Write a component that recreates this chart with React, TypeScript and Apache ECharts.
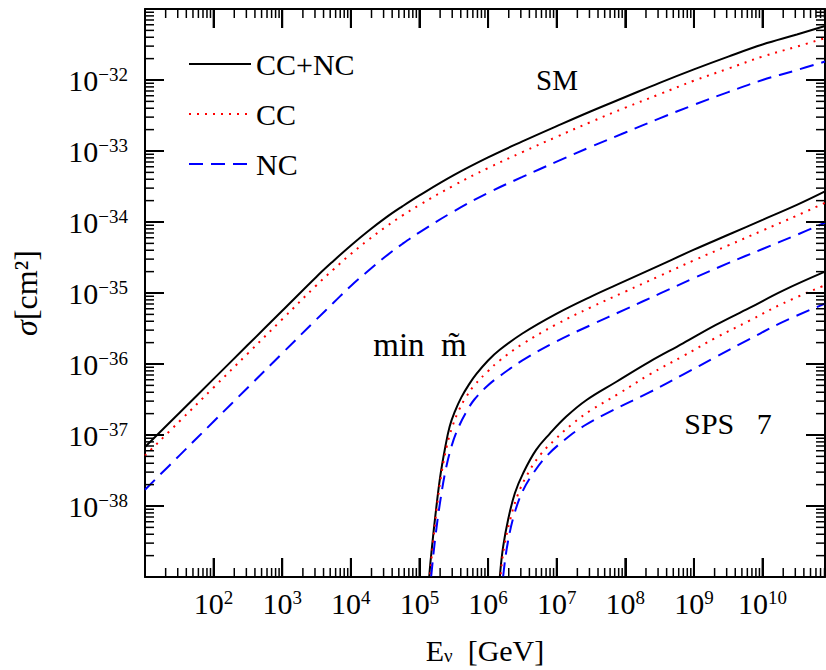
import React, { useEffect, useRef } from 'react';
import * as echarts from 'echarts';

// log10(E_nu / GeV) and log10(sigma / cm^2)
const X_MIN = 1;
const X_MAX = 10.91;
const Y_MIN = -39;
const Y_MAX = -31;

const xTickExponents = [2, 3, 4, 5, 6, 7, 8, 9, 10];
const yTickExponents = [-38, -37, -36, -35, -34, -33, -32];

// Standard Model
const smTotal: [number, number][] = [
  [1.0, -37.17], [1.5, -36.69], [2.0, -36.21], [2.5, -35.73], [3.0, -35.25], [3.5, -34.77],
  [3.75, -34.545], [4.0, -34.33], [4.25, -34.13], [4.5, -33.945], [4.75, -33.78], [5.0, -33.625],
  [5.5, -33.34], [6.0, -33.09], [6.5, -32.865], [7.0, -32.65], [7.5, -32.44], [8.0, -32.24],
  [8.5, -32.04], [9.0, -31.85], [9.5, -31.67], [10.0, -31.5], [10.5, -31.36], [10.91, -31.24],
];
const smCC: [number, number][] = [
  [1.0, -37.29], [1.5, -36.81], [2.0, -36.33], [2.5, -35.85], [3.0, -35.37], [3.5, -34.89],
  [3.75, -34.665], [4.0, -34.45], [4.25, -34.255], [4.5, -34.075], [4.75, -33.91], [5.0, -33.76],
  [5.5, -33.485], [6.0, -33.24], [6.5, -33.015], [7.0, -32.8], [7.5, -32.59], [8.0, -32.39],
  [8.5, -32.2], [9.0, -32.01], [9.5, -31.84], [10.0, -31.67], [10.5, -31.53], [10.91, -31.41],
];
const smNC: [number, number][] = [
  [1.0, -37.77], [1.5, -37.29], [2.0, -36.81], [2.5, -36.33], [3.0, -35.85], [3.5, -35.37],
  [3.75, -35.135], [4.0, -34.9], [4.25, -34.69], [4.5, -34.49], [4.75, -34.31], [5.0, -34.145],
  [5.5, -33.85], [6.0, -33.59], [6.5, -33.365], [7.0, -33.15], [7.5, -32.94], [8.0, -32.74],
  [8.5, -32.54], [9.0, -32.35], [9.5, -32.17], [10.0, -32.0], [10.5, -31.86], [10.91, -31.74],
];

// min m~
const minTotal: [number, number][] = [
  [5.12, -39.3], [5.15, -38.9], [5.18, -38.6], [5.23, -38.15], [5.3, -37.6], [5.37, -37.2],
  [5.44, -36.88], [5.52, -36.66], [5.61, -36.47], [5.72, -36.29], [5.83, -36.14], [6.0, -35.95],
  [6.17, -35.8], [6.5, -35.57], [7.0, -35.29], [7.5, -35.05], [8.0, -34.83], [8.5, -34.61],
  [9.0, -34.39], [9.5, -34.18], [10.0, -33.97], [10.5, -33.76], [10.91, -33.57],
];
const minCC: [number, number][] = [
  [5.13, -39.3], [5.16, -38.9], [5.2, -38.5], [5.25, -38.05], [5.32, -37.55], [5.4, -37.15],
  [5.48, -36.88], [5.57, -36.66], [5.67, -36.48], [5.8, -36.3], [6.0, -36.1], [6.17, -35.95],
  [6.5, -35.72], [7.0, -35.44], [7.5, -35.2], [8.0, -34.98], [8.5, -34.76], [9.0, -34.54],
  [9.5, -34.33], [10.0, -34.12], [10.5, -33.91], [10.91, -33.73],
];
const minNC: [number, number][] = [
  [5.14, -39.3], [5.18, -38.9], [5.23, -38.45], [5.3, -37.95], [5.38, -37.5], [5.47, -37.15],
  [5.57, -36.89], [5.68, -36.68], [5.8, -36.5], [6.0, -36.3], [6.17, -36.17], [6.5, -35.95],
  [7.0, -35.68], [7.5, -35.45], [8.0, -35.23], [8.5, -35.01], [9.0, -34.79], [9.5, -34.58],
  [10.0, -34.38], [10.5, -34.18], [10.91, -34.01],
];

// SPS 7
const spsTotal: [number, number][] = [
  [6.15, -39.3], [6.18, -38.9], [6.22, -38.57], [6.29, -38.2], [6.39, -37.82], [6.51, -37.54],
  [6.7, -37.21], [6.9, -36.98], [7.14, -36.74], [7.43, -36.51], [7.87, -36.25], [8.35, -35.97],
  [8.84, -35.71], [9.32, -35.45], [9.81, -35.21], [10.29, -34.97], [10.91, -34.7],
];
const spsCC: [number, number][] = [
  [6.16, -39.3], [6.19, -38.9], [6.24, -38.55], [6.32, -38.2], [6.43, -37.85], [6.57, -37.56],
  [6.76, -37.28], [6.98, -37.06], [7.22, -36.85], [7.5, -36.65], [7.9, -36.42], [8.35, -36.15],
  [8.84, -35.89], [9.32, -35.63], [9.81, -35.39], [10.29, -35.15], [10.91, -34.89],
];
const spsNC: [number, number][] = [
  [6.19, -39.3], [6.23, -38.9], [6.29, -38.5], [6.38, -38.12], [6.5, -37.8], [6.65, -37.55],
  [6.85, -37.3], [7.1, -37.08], [7.4, -36.87], [7.8, -36.66], [8.35, -36.4], [8.84, -36.15],
  [9.32, -35.9], [9.81, -35.65], [10.29, -35.41], [10.91, -35.15],
];

const seriesNames = ['CC+NC', 'CC', 'NC'];
const annotationTexts = ['SM', 'min\u2002m\u0303', 'SPS\u2002 7'];

const FONT = 'Liberation Serif';
// layout of the annotation texts (pixel centres and font sizes)
const annotationLayout = [
  { x: 557, y: 80, size: 29 },
  { x: 420, y: 345, size: 33 },
  { x: 728, y: 423, size: 30 },
];

function minorTicks(lo: number, hi: number): number[] {
  const out: number[] = [];
  for (let n = Math.floor(lo); n < Math.ceil(hi); n++) {
    for (let k = 2; k <= 9; k++) {
      const v = n + Math.log10(k);
      if (v > lo && v < hi) out.push(v);
    }
  }
  return out;
}

const styles = [
  { color: '#000000', type: 'solid' as any, width: 2 },
  { color: '#ff0000', type: [2, 6] as any, width: 2 },
  { color: '#0000ff', type: [14, 8] as any, width: 2 },
];

export default function App() {
  const ref = useRef<HTMLDivElement>(null);
  useEffect(() => {
    if (!ref.current) return;
    const chart = echarts.init(ref.current, undefined, { renderer: 'svg' });

    const groups = [
      [smTotal, smCC, smNC],
      [minTotal, minCC, minNC],
      [spsTotal, spsCC, spsNC],
    ];
    const lineSeries: any[] = [];
    groups.forEach((g) => {
      g.forEach((d, i) => {
        lineSeries.push({
          type: 'line',
          name: seriesNames[i],
          data: d,
          xAxisIndex: 0,
          yAxisIndex: 0,
          showSymbol: false,
          symbol: 'none',
          smooth: 0.4,
          clip: true,
          lineStyle: { color: styles[i].color, width: styles[i].width, type: styles[i].type },
          itemStyle: { color: styles[i].color },
          silent: true,
          z: 3,
        });
      });
    });

    const majorStyle = { stroke: '#000', lineWidth: 2 };
    const minorStyle = { stroke: '#000', lineWidth: 1.5 };

    const xTicks = [
      ...xTickExponents.map((e) => [e, 19]),
      ...minorTicks(X_MIN, X_MAX).map((v) => [v, 9]),
    ];
    const yTicks = [
      ...yTickExponents.map((e) => [e, 19]),
      ...minorTicks(Y_MIN, Y_MAX).map((v) => [v, 9]),
    ];

    const xTickSeries = {
      type: 'custom',
      xAxisIndex: 0,
      yAxisIndex: 0,
      silent: true,
      clip: false,
      z: 5,
      data: xTicks.map((t) => [t[0], Y_MIN, t[1]]),
      encode: { x: 0, y: 1 },
      renderItem: (params: any, api: any) => {
        const p = api.coord([api.value(0), Y_MIN]);
        const len = api.value(2);
        const cs = params.coordSys;
        const yb = cs.y + cs.height;
        const st = len > 10 ? majorStyle : minorStyle;
        return {
          type: 'group',
          children: [
            { type: 'line', shape: { x1: p[0], y1: yb, x2: p[0], y2: yb - len }, style: st },
            { type: 'line', shape: { x1: p[0], y1: cs.y, x2: p[0], y2: cs.y + len }, style: st },
          ],
        };
      },
    };
    const yTickSeries = {
      type: 'custom',
      xAxisIndex: 0,
      yAxisIndex: 0,
      silent: true,
      clip: false,
      z: 5,
      data: yTicks.map((t) => [X_MIN, t[0], t[1]]),
      encode: { x: 0, y: 1 },
      renderItem: (params: any, api: any) => {
        const p = api.coord([X_MIN, api.value(1)]);
        const len = api.value(2);
        const cs = params.coordSys;
        const xr = cs.x + cs.width;
        const st = len > 10 ? majorStyle : minorStyle;
        return {
          type: 'group',
          children: [
            { type: 'line', shape: { x1: cs.x, y1: p[1], x2: cs.x + len, y2: p[1] }, style: st },
            { type: 'line', shape: { x1: xr, y1: p[1], x2: xr - len, y2: p[1] }, style: st },
          ],
        };
      },
    };

    const rich = {
      b: { fontFamily: FONT, fontSize: 30, color: '#000', lineHeight: 30, verticalAlign: 'top' },
      s: { fontFamily: FONT, fontSize: 19, color: '#000', lineHeight: 19, verticalAlign: 'top' },
    };

    const axisCommon = {
      axisLine: { show: true, onZero: false, lineStyle: { color: '#000', width: 2 } },
      axisTick: { show: true, inside: true, length: 19, lineStyle: { color: '#000', width: 2 } },
      splitLine: { show: false },
    };

    chart.setOption({
      animation: false,
      backgroundColor: '#ffffff',
      grid: { left: 145, right: 1, top: 9, bottom: 93, containLabel: false },
      legend: {
        data: seriesNames,
        orient: 'vertical',
        left: 183,
        top: 44,
        itemWidth: 62,
        itemHeight: 14,
        itemGap: 20,
        textGap: 20,
        itemStyle: { opacity: 0 },
        textStyle: { fontFamily: FONT, fontSize: 30, color: '#000', lineHeight: 30 },
        selectedMode: false,
      },
      xAxis: [
        {
          type: 'value',
          min: X_MIN,
          max: X_MAX,
          interval: 1,
          position: 'bottom',
          ...axisCommon,
          axisLabel: {
            margin: 11,
            showMinLabel: false,
            showMaxLabel: false,
            formatter: (v: number) => {
              const e = Math.round(v);
              return Math.abs(v - e) < 1e-6 && xTickExponents.includes(e) ? `{b|10}{s|${e}}` : '';
            },
            rich,
          },
          name: '{n|E}{sub|\u03bd}{n|  [GeV]}',
          nameLocation: 'middle',
          nameGap: 58,
          nameTextStyle: {
            rich: {
              n: { fontFamily: FONT, fontSize: 30, color: '#000', lineHeight: 30, verticalAlign: 'top' },
              sub: { fontFamily: FONT, fontSize: 19, color: '#000', lineHeight: 4, verticalAlign: 'bottom' },
            },
          },
        },
        {
          type: 'value',
          min: X_MIN,
          max: X_MAX,
          interval: 1,
          position: 'top',
          ...axisCommon,
          axisLabel: { show: false },
        },
      ],
      yAxis: [
        {
          type: 'value',
          min: Y_MIN,
          max: Y_MAX,
          interval: 1,
          position: 'left',
          ...axisCommon,
          axisLabel: {
            margin: 17,
            showMinLabel: false,
            showMaxLabel: false,
            formatter: (v: number) => {
              const e = Math.round(v);
              return yTickExponents.includes(e) ? `{b|10}{s|\u2212${Math.abs(e)}}` : '';
            },
            rich,
          },
          name: '{i|\u03c3}{n|[cm\u00b2]}',
          nameLocation: 'middle',
          nameRotate: 90,
          nameGap: 103,
          nameTextStyle: {
            rich: {
              i: { fontFamily: FONT, fontSize: 32, fontStyle: 'italic', color: '#000' },
              n: { fontFamily: FONT, fontSize: 32, color: '#000' },
            },
          },
        },
        {
          type: 'value',
          min: Y_MIN,
          max: Y_MAX,
          interval: 1,
          position: 'right',
          ...axisCommon,
          axisLabel: { show: false },
        },
      ],
      graphic: annotationTexts.map((t, i) => ({
        type: 'text',
        x: annotationLayout[i].x,
        y: annotationLayout[i].y,
        silent: true,
        style: {
          text: t,
          font: `${annotationLayout[i].size}px "${FONT}"`,
          fill: '#000',
          align: 'center',
          verticalAlign: 'middle',
        },
      })),
      series: [xTickSeries, yTickSeries, ...lineSeries],
    });

    return () => chart.dispose();
  }, []);

  return (
    <div
      ref={ref}
      style={{ position: 'fixed', left: 0, top: 0, width: 826, height: 670, background: '#fff' }}
    />
  );
}
